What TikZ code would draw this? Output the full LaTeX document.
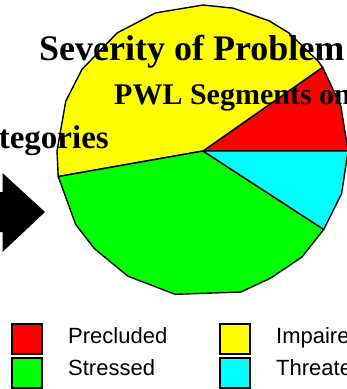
\documentclass[tikz,border=0pt]{standalone}
\usepackage{fontspec}
\setmainfont{Liberation Serif}
\newfontfamily\legendfont{Liberation Sans}
\definecolor{sevred}{RGB}{255,0,0}
\definecolor{sevyellow}{RGB}{255,255,0}
\definecolor{sevgreen}{RGB}{0,255,0}
\definecolor{sevcyan}{RGB}{0,255,255}
\tikzset{
  slice/.style={draw=black, line width=1.4pt, line join=round},
  titletext/.style={anchor=base west, inner sep=0pt, text=black},
  legendbox/.style={draw=black, line width=1.5pt, minimum width=30pt, minimum height=30pt, inner sep=0pt, anchor=north west},
  legendtext/.style={anchor=base west, inner sep=0pt, font=\legendfont\fontsize{22}{24}\selectfont},
}
\begin{document}
\begin{tikzpicture}[x=1pt, y=1pt]
\useasboundingbox (0,0) rectangle (347,-389);
\clip (0,0) rectangle (347,-389);

% pie chart, drawn as a polygonal outline around its centre
\begin{scope}[shift={(203,-151)}]
  \coordinate (pc) at (0,0);
  \filldraw[slice, fill=sevred]
    (pc) -- (0:145) -- (18:145) -- (35:146) -- cycle;
  \filldraw[slice, fill=sevyellow]
    (pc) -- (35:146) -- (38:146) -- (54:146) -- (63:146) -- (78:146)
    -- (90:146) -- (109:146) -- (126:146) -- (146:146) -- (160:146)
    -- (180:146) -- (190:147) -- cycle;
  \filldraw[slice, fill=sevgreen]
    (pc) -- (190:147) -- (210:147) -- (222:146) -- (239:146) -- (259:146)
    -- (285:146) -- (298:144) -- (313:145) -- (327:144) -- cycle;
  \filldraw[slice, fill=sevcyan]
    (pc) -- (327:144) -- (343:145) -- (360:145) -- cycle;
\end{scope}

% title lines
\node[titletext, font=\fontsize{36}{40}\selectfont\bfseries] (t1) at (39,-60) {Severity of Problem};
\node[titletext, font=\fontsize{30}{34}\selectfont\bfseries] (t2) at (114,-104) {PWL Segments on};
\node[titletext, anchor=base east, font=\fontsize{33}{36}\selectfont\bfseries] (t3) at (109,-148) {Categories};

% black arrow on the left
\fill[black] (-10,-192) -- (2.5,-192) -- (2.5,-173) -- (45,-212) -- (2.5,-252)
  -- (2.5,-232) -- (-10,-232) -- cycle;

% legend
\node[legendbox, fill=sevred]    (k1) at (11,-323) {};
\node[legendbox, fill=sevgreen]  (k2) at (11,-357) {};
\node[legendbox, fill=sevyellow] (k3) at (219,-323) {};
\node[legendbox, fill=sevcyan]   (k4) at (219,-357) {};
\node[legendtext] (l1) at (68,-343) {Precluded};
\node[legendtext] (l2) at (68,-375) {Stressed};
\node[legendtext] (l3) at (276,-343) {Impaired};
\node[legendtext] (l4) at (276,-375) {Threatened};
\end{tikzpicture}
\end{document}
